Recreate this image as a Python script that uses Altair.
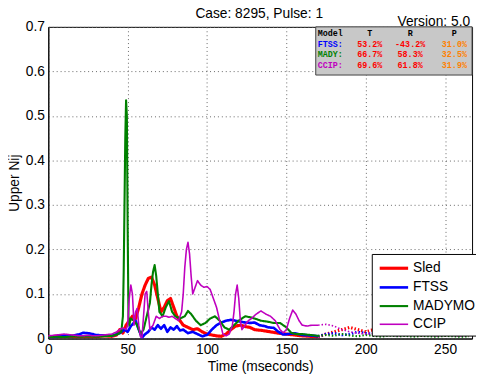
import altair as alt
import pandas as pd

# ---------------- data ----------------
SERIES = ["Sled", "FTSS", "MADYMO", "CCIP"]
COLORS = ["#FF0000", "#0000FF", "#008000", "#BF00BF"]
WIDTHS = [3.2, 1.6, 1.6, 1.6]

sled_t = [0, 5, 10, 15, 20, 25, 30, 35, 40, 43, 45, 47, 49, 51, 53, 55, 57, 59, 61, 63, 65, 67, 69, 71, 73, 75,
          77, 79, 81, 83, 85, 88, 91, 94, 97, 100, 103, 106, 109, 112, 115, 118, 121, 124, 127, 130, 135, 140,
          145, 150, 155, 160, 165, 170]
sled_v = [0.004, 0.005, 0.004, 0.005, 0.004, 0.005, 0.004, 0.006, 0.005, 0.008, 0.02, 0.012, 0.03, 0.04, 0.05,
          0.045, 0.07, 0.10, 0.12, 0.135, 0.138, 0.12, 0.09, 0.06, 0.07, 0.085, 0.09, 0.07, 0.05, 0.04, 0.03,
          0.025, 0.02, 0.022, 0.015, 0.01, 0.008, 0.006, 0.005, 0.01, 0.02, 0.028, 0.03, 0.027, 0.025, 0.02,
          0.018, 0.015, 0.012, 0.01, 0.008, 0.006, 0.005, 0.004]

ftss_t = [0, 5, 10, 15, 20, 22, 25, 28, 30, 35, 40, 45, 48, 50, 52, 55, 57, 59, 61, 63, 65, 67, 69, 71, 73, 75,
          77, 79, 81, 83, 85, 88, 91, 94, 97, 100, 103, 106, 109, 112, 115, 118, 121, 124, 127, 130, 133, 136,
          139, 142, 145, 148, 151, 155, 160, 165, 170]
ftss_v = [0.003, 0.004, 0.005, 0.006, 0.01, 0.013, 0.012, 0.01, 0.008, 0.007, 0.006, 0.012, 0.02, 0.015, 0.028,
          0.04, 0.02, 0.002, 0.01, 0.015, 0.025, 0.02, 0.03, 0.022, 0.03, 0.015, 0.025, 0.02, 0.028, 0.018, 0.02,
          0.012, 0.015, 0.01, 0.005, 0.008, 0.02, 0.03, 0.036, 0.04, 0.042, 0.04, 0.038, 0.036, 0.035, 0.036,
          0.03, 0.028, 0.025, 0.024, 0.015, 0.009, 0.01, 0.012, 0.008, 0.007, 0.005]

mady_t = [0, 5, 10, 15, 20, 25, 30, 35, 40, 44, 46, 47, 47.5, 48, 48.5, 49, 49.5, 50, 50.5, 51, 52, 54, 56, 58,
          60, 62, 64, 65, 66, 67, 68, 69, 70, 72, 74, 76, 78, 80, 83, 86, 88, 90, 93, 96, 99, 102, 105, 108, 111,
          114, 117, 120, 124, 127, 130, 134, 138, 142, 146, 150, 153, 156, 160, 165, 170]
mady_v = [0.003, 0.004, 0.003, 0.005, 0.004, 0.005, 0.004, 0.005, 0.006, 0.01, 0.015, 0.05, 0.15, 0.3, 0.45,
          0.535, 0.5, 0.25, 0.05, 0.03, 0.045, 0.04, 0.03, 0.01, 0.02, 0.05, 0.08, 0.12, 0.15, 0.165, 0.14, 0.1,
          0.06, 0.05, 0.07, 0.084, 0.06, 0.05, 0.045, 0.05, 0.062, 0.055, 0.04, 0.03, 0.035, 0.045, 0.05, 0.04,
          0.025, 0.02, 0.03, 0.04, 0.05, 0.048, 0.045, 0.04, 0.038, 0.035, 0.035, 0.025, 0.013, 0.01, 0.01,
          0.008, 0.006]

ccip_t = [0, 5, 10, 15, 20, 25, 30, 35, 40, 43, 45, 47, 49, 50, 51, 52, 53, 54, 55, 56, 57, 58, 59, 60, 61, 62,
          63, 64, 66, 68, 70, 72, 74, 76, 78, 80, 82, 84, 85, 86, 87, 88, 89, 90, 91, 92, 94, 96, 98, 100, 102,
          104, 106, 108, 110, 112, 114, 116, 117, 118, 119, 120, 121, 122, 124, 126, 128, 131, 134, 137, 140,
          143, 146, 148, 150, 152, 154, 156, 158, 160, 163, 166, 170]
ccip_v = [0.006, 0.008, 0.01, 0.008, 0.006, 0.007, 0.006, 0.008, 0.01, 0.015, 0.02, 0.024, 0.02, 0.03, 0.09,
          0.12, 0.1, 0.03, 0.06, 0.068, 0.03, 0.005, 0.002, 0.05, 0.1, 0.106, 0.06, 0.02, 0.03, 0.05, 0.045,
          0.05, 0.05, 0.048, 0.05, 0.045, 0.04, 0.06, 0.1, 0.16, 0.2, 0.216, 0.19, 0.14, 0.1, 0.11, 0.13, 0.12,
          0.115, 0.117, 0.11, 0.09, 0.07, 0.04, 0.01, 0.006, 0.01, 0.03, 0.06, 0.1, 0.12, 0.09, 0.04, 0.02, 0.03,
          0.04, 0.045, 0.055, 0.062, 0.055, 0.05, 0.04, 0.02, 0.013, 0.02, 0.045, 0.064, 0.055, 0.04, 0.03,
          0.028, 0.03, 0.03]

# dotted continuation after the evaluation window
dot_t = [170, 175, 180, 185, 190, 195, 200, 205, 210, 215, 220, 225, 230, 235, 240, 245, 250, 255, 260, 265]
sled_dot = [0.004, 0.01, 0.015, 0.02, 0.025, 0.02, 0.015, 0.02, 0.01, 0.015, 0.01, 0.012, 0.01, 0.008, 0.012,
            0.01, 0.008, 0.01, 0.01, 0.008]
ftss_dot = [0.005, 0.01, 0.012, 0.008, 0.01, 0.015, 0.012, 0.01, 0.014, 0.01, 0.008, 0.012, 0.01, 0.009,
            0.012, 0.01, 0.008, 0.01, 0.012, 0.009]
mady_dot = [0.006, 0.008, 0.006, 0.01, 0.007, 0.005, 0.008, 0.006, 0.004, 0.007, 0.005, 0.006, 0.004, 0.006,
            0.005, 0.004, 0.006, 0.005, 0.004, 0.005]
ccip_dot = [0.03, 0.032, 0.028, 0.02, 0.015, 0.012, 0.01, 0.012, 0.008, 0.01, 0.006, 0.008, 0.01, 0.007,
            0.008, 0.006, 0.008, 0.007, 0.006, 0.008]

# score table
TABLE_HEAD = ["Model", "T", "R", "P"]
TABLE_MODELS = ["FTSS:", "MADY:", "CCIP:"]
TABLE_MODEL_COLORS = ["#0000FF", "#008000", "#BF00BF"]
TABLE_T = ["53.2%", "66.7%", "69.6%"]
TABLE_R = ["-43.2%", "58.3%", "61.8%"]
TABLE_P = ["31.0%", "32.5%", "31.9%"]

TITLE = "Case: 8295, Pulse: 1"
VERSION = "Version: 5.0"
X_TICKS = [0, 50, 100, 150, 200, 250]
Y_TICKS = [0, 0.1, 0.2, 0.3, 0.4, 0.5, 0.6, 0.7]

# ---------------- build tables ----------------
rows = []
solid = [(sled_t, sled_v), (ftss_t, ftss_v), (mady_t, mady_v), (ccip_t, ccip_v)]
dots = [sled_dot, ftss_dot, mady_dot, ccip_dot]
for i, name in enumerate(SERIES):
    for t, v in zip(*solid[i]):
        rows.append({"series": name, "part": "solid", "grp": f"{i}a", "t": t, "v": v})
    for t, v in zip(dot_t, dots[i]):
        rows.append({"series": name, "part": "dotted", "grp": f"{i}b", "t": t, "v": v})
df = pd.DataFrame(rows)

W, H = 431, 317
COL_X = [274, 327, 368, 413]
ROW_Y = [6, 17, 28, 39]
left_cells, mid_cells = [], []
left_cells.append({"txt": TABLE_HEAD[0], "px": COL_X[0], "py": ROW_Y[0], "col": "#000000"})
for c in range(1, 4):
    mid_cells.append({"txt": TABLE_HEAD[c], "px": COL_X[c], "py": ROW_Y[0], "col": "#000000"})
for r in range(3):
    left_cells.append({"txt": TABLE_MODELS[r], "px": COL_X[0], "py": ROW_Y[r + 1], "col": TABLE_MODEL_COLORS[r]})
    vals = [TABLE_T[r], TABLE_R[r], TABLE_P[r]]
    cols = ["#FF0000", "#FF0000", "#FF8000"]
    for c in range(3):
        mid_cells.append({"txt": vals[c], "px": COL_X[c + 1], "py": ROW_Y[r + 1], "col": cols[c]})

# ---------------- chart ----------------
xs = alt.Scale(domain=[0, 267], nice=False, zero=False)
ys = alt.Scale(domain=[0, 0.7], nice=False)

lines = alt.Chart(df).mark_line(clip=True, strokeCap="butt", strokeJoin="round").encode(
    x=alt.X("t:Q", scale=xs, title="Time (mseconds)",
            axis=alt.Axis(values=X_TICKS, format="d", labelFlush=False)),
    y=alt.Y("v:Q", scale=ys, title="Upper Nij",
            axis=alt.Axis(values=Y_TICKS,
                          labelExpr="datum.value == 0 ? '0' : format(datum.value, '.1f')")),
    color=alt.Color("series:N", scale=alt.Scale(domain=SERIES, range=COLORS), title=None),
    strokeWidth=alt.StrokeWidth("series:N", scale=alt.Scale(domain=SERIES, range=WIDTHS), title=None),
    strokeDash=alt.StrokeDash("part:N", scale=alt.Scale(domain=["solid", "dotted"], range=[[1, 0], [1.5, 2]]),
                              legend=None),
    detail="grp:N",
)

box = alt.Chart(pd.DataFrame({"a": [0]})).mark_rect(
    fill="#C8C8C8", stroke="#404040", strokeWidth=1
).encode(x=alt.value(272), x2=alt.value(W), y=alt.value(0), y2=alt.value(49))


def text_layer(cells, align):
    return alt.Chart(pd.DataFrame(cells)).mark_text(
        font="Liberation Mono", fontSize=8.5, fontWeight="bold", baseline="middle", align=align
    ).encode(
        x=alt.X("px:Q", scale=None),
        y=alt.Y("py:Q", scale=None),
        text="txt:N",
        color=alt.Color("col:N", scale=None),
    )


table_left = text_layer(left_cells, "left")
table_mid = text_layer(mid_cells, "center")

title_txt = alt.Chart(pd.DataFrame({"s": [TITLE]})).mark_text(
    font="Liberation Sans", fontSize=14, align="center", baseline="alphabetic", color="black"
).encode(x=alt.value(W / 2 - 1), y=alt.value(-9), text="s:N")

version_txt = alt.Chart(pd.DataFrame({"s": [VERSION]})).mark_text(
    font="Liberation Sans", fontSize=14, align="right", baseline="alphabetic", color="black"
).encode(x=alt.value(W - 2), y=alt.value(-1), text="s:N")

chart = alt.layer(lines, box, table_left, table_mid, title_txt, version_txt).properties(
    width=W, height=H,
    autosize=alt.AutoSizeParams(type="none"),
    padding={"left": 41, "top": 16, "right": 4, "bottom": 40},
).configure_view(
    stroke="black", strokeWidth=1
).configure_axis(
    labelFont="Liberation Sans", titleFont="Liberation Sans",
    labelFontSize=14, titleFontSize=14, titleFontWeight="normal",
    labelColor="black", titleColor="black",
    domainColor="black", ticks=False, labelPadding=4,
    gridColor="#666666", gridDash=[1, 3], gridWidth=1, gridOpacity=1,
).configure_axisY(titlePadding=4).configure_axisX(titlePadding=4).configure_legend(
    orient="none", legendX=329, legendY=231, fillColor="white", strokeColor="black", padding=4,
    labelFont="Liberation Sans", labelFontSize=14, labelColor="black",
    symbolType="M-1.7,0H1.7", symbolSize=289, symbolOffset=8, rowPadding=2, labelOffset=9,
)

chart.save("out.html", embed_options={"renderer": "svg", "actions": False})
